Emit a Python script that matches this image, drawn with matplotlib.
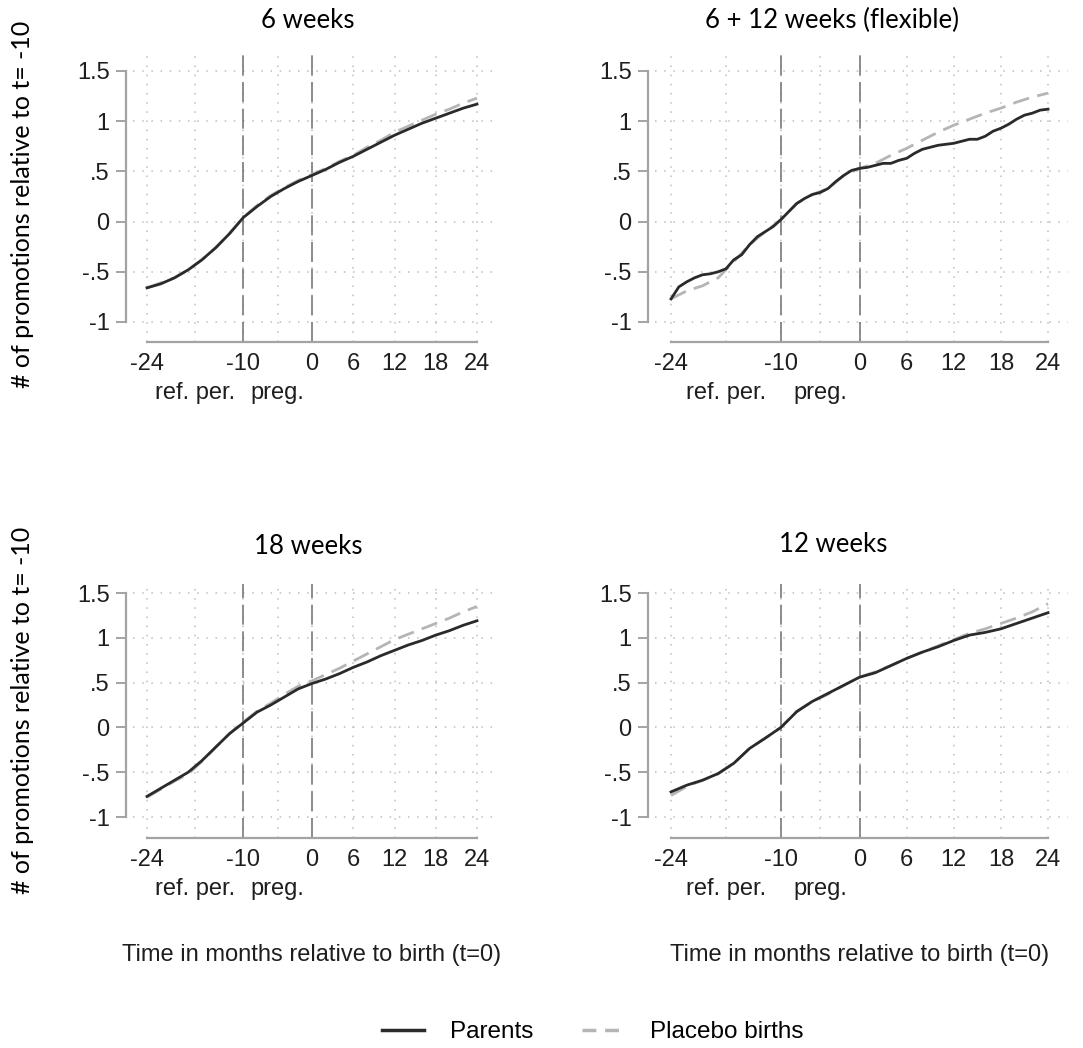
import numpy as np
import matplotlib
matplotlib.use("Agg")
import matplotlib.pyplot as plt
import matplotlib.transforms as mtransforms
from matplotlib.lines import Line2D

# ---------------------------------------------------------------------------
# Data
# ---------------------------------------------------------------------------
months2 = list(range(-24, 25, 2))
months1 = list(range(-24, 25, 1))

w6_parents = [-0.66, -0.62, -0.56, -0.48, -0.38, -0.26, -0.12, 0.04, 0.15, 0.25, 0.33, 0.40, 0.46,
              0.52, 0.59, 0.65, 0.72, 0.79, 0.86, 0.92, 0.98, 1.03, 1.08, 1.13, 1.17]
w6_placebo = [-0.66, -0.61, -0.56, -0.48, -0.38, -0.26, -0.12, 0.04, 0.16, 0.26, 0.34, 0.41, 0.47,
              0.53, 0.60, 0.66, 0.74, 0.81, 0.89, 0.95, 1.01, 1.07, 1.12, 1.18, 1.23]

flex_parents = [-0.77, -0.65, -0.60, -0.56, -0.53, -0.52, -0.50, -0.47, -0.38, -0.33, -0.23, -0.15,
                -0.10, -0.05, 0.02, 0.10, 0.18, 0.23, 0.27, 0.29, 0.33, 0.40, 0.46, 0.51, 0.53,
                0.54, 0.56, 0.58, 0.58, 0.61, 0.63, 0.68, 0.72, 0.74, 0.76, 0.77, 0.78, 0.80,
                0.82, 0.82, 0.85, 0.90, 0.93, 0.97, 1.02, 1.06, 1.08, 1.11, 1.12]
flex_placebo = [-0.77, -0.69, -0.64, -0.56, -0.40, -0.23, -0.10, 0.02, 0.18, 0.27, 0.33, 0.46, 0.53,
                0.58, 0.66, 0.73, 0.81, 0.89, 0.96, 1.02, 1.08, 1.13, 1.19, 1.24, 1.28]

w18_parents = [-0.77, -0.68, -0.59, -0.50, -0.37, -0.22, -0.07, 0.05, 0.17, 0.25, 0.34, 0.43, 0.49,
               0.54, 0.60, 0.67, 0.73, 0.80, 0.86, 0.92, 0.97, 1.03, 1.08, 1.14, 1.19]
w18_placebo = [-0.78, -0.69, -0.60, -0.52, -0.38, -0.22, -0.07, 0.06, 0.18, 0.27, 0.37, 0.46, 0.52,
               0.59, 0.66, 0.74, 0.82, 0.90, 0.98, 1.04, 1.10, 1.16, 1.22, 1.29, 1.35]

w12_parents = [-0.72, -0.645, -0.59, -0.515, -0.40, -0.235, -0.12, 0.0, 0.175, 0.29, 0.38, 0.47, 0.56,
               0.61, 0.69, 0.77, 0.84, 0.90, 0.97, 1.03, 1.06, 1.10, 1.16, 1.22, 1.28]
w12_placebo = [-0.76, -0.66, -0.59, -0.52, -0.40, -0.235, -0.12, 0.0, 0.18, 0.29, 0.37, 0.47, 0.56,
               0.62, 0.69, 0.77, 0.84, 0.91, 0.98, 1.05, 1.10, 1.16, 1.22, 1.29, 1.38]

titles = ["6 weeks", "6 + 12 weeks (flexible)", "18 weeks", "12 weeks"]
xticks = [-24, -17, -10, -5, 0, 6, 12, 18, 24]
xticklabels = ["-24", "", "-10", "", "0", "6", "12", "18", "24"]
period_pos = [-17, -5]
period_labels = ["ref. per.", "preg."]
yticks = [-1, -0.5, 0, 0.5, 1, 1.5]
yticklabels = ["-1", "-.5", "0", ".5", "1", "1.5"]
ylab = "# of promotions relative to t= -10"
xlab = "Time in months relative to birth (t=0)"

# ---------------------------------------------------------------------------
W, H = 1083, 1048
fig = plt.figure(figsize=(W / 100, H / 100), dpi=100)
plt.rcParams["font.family"] = ["Liberation Sans", "DejaVu Sans"]
TXT = "#1e1e1e"
XLIM = (-26, 26.5)


def rect(px_a, px_b, py_a, py_b, ylim):
    # px_a/px_b: pixel of x=-24 / x=24, py_a/py_b: pixel of y=1.5 / y=-1
    sx = (px_b - px_a) / 48
    sy = (py_b - py_a) / 2.5
    left = px_a + (XLIM[0] + 24) * sx
    right = px_a + (XLIM[1] + 24) * sx
    top = py_a - (ylim[1] - 1.5) * sy
    bottom = py_b + (-1 - ylim[0]) * sy
    return [left / W, 1 - bottom / H, (right - left) / W, (bottom - top) / H]


panels = [
    (titles[0], months2, w6_parents, months2, w6_placebo, (147, 477, 71, 322), (-1.2, 1.68), (308, 20)),
    (titles[1], months1, flex_parents, months2, flex_placebo, (671, 1048, 71, 322), (-1.2, 1.68), (832, 20)),
    (titles[2], months2, w18_parents, months2, w18_placebo, (147, 477, 593, 817), (-1.23, 1.6), (308, 547)),
    (titles[3], months2, w12_parents, months2, w12_placebo, (671, 1048, 593, 817), (-1.23, 1.6), (833, 545)),
]

for i, (title, xp, yp, xq, yq, px, ylim, tpos) in enumerate(panels):
    ax = fig.add_axes(rect(*px, ylim))
    ax.set_xlim(*XLIM)
    ax.set_ylim(*ylim)
    ax.grid(True, ls=(0, (1, 5)), color="#bdbdbd", lw=1.1)
    ax.axvline(-10, color="#7a7a7a", lw=1.2, ls=(0, (12, 4)), zorder=2)
    ax.axvline(0, color="#7a7a7a", lw=1.2, ls=(0, (12, 4)), zorder=2)
    ax.plot(xq, yq, color="#b5b5b5", lw=2, ls=(0, (6, 3)), zorder=3)
    ax.plot(xp, yp, color="#2a2a2a", lw=2, zorder=4)

    for s in ["top", "right"]:
        ax.spines[s].set_visible(False)
    for s in ["left", "bottom"]:
        ax.spines[s].set_color("#a3a3a3")
        ax.spines[s].set_linewidth(1.6)
    ax.spines["left"].set_position(("outward", 5))
    ax.spines["left"].set_bounds(-1, 1.5)
    ax.spines["bottom"].set_bounds(-24, 24)

    ax.set_yticks(yticks)
    ax.set_yticklabels(yticklabels)
    ax.set_xticks(xticks)
    ax.set_xticklabels(xticklabels)
    ax.tick_params(axis="y", length=7, width=1.4, color="#a3a3a3", pad=5, labelsize=17, labelcolor=TXT)
    ax.tick_params(axis="x", length=0, pad=8, labelsize=17, labelcolor=TXT)

    # second row of x labels (periods)
    trans = ax.get_xaxis_transform() + mtransforms.ScaledTranslation(0, -0.51, fig.dpi_scale_trans)
    for xv, lab in zip(period_pos, period_labels):
        ax.text(xv, 0, lab, transform=trans, ha="center", va="center", fontsize=17, color=TXT)

    fig.text(tpos[0] / W, 1 - tpos[1] / H, title, ha="center", va="center",
             fontsize=18.5, family="Lato", color="black")
    if i % 2 == 0:
        yc = 204 if i == 0 else 710
        fig.text(23 / W, 1 - yc / H, ylab, rotation=90, ha="center", va="center",
                 fontsize=18, family="Lato", color="black")
    if i >= 2:
        xc = (px[0] + px[1]) / 2
        fig.text(xc / W, 1 - 955 / H, xlab, ha="center", va="center", fontsize=17, color=TXT)

handles = [Line2D([], [], color="#2a2a2a", lw=2.5),
           Line2D([], [], color="#b5b5b5", lw=2.5, ls=(0, (4, 2.5)))]
fig.legend(handles, ["Parents", "Placebo births"], loc="center", bbox_to_anchor=(593 / W, 1 - 1032 / H),
           ncol=2, frameon=False, fontsize=17.5, handlelength=1.7, handletextpad=1.1, columnspacing=2.0)

fig.savefig("out.png", dpi=100)
